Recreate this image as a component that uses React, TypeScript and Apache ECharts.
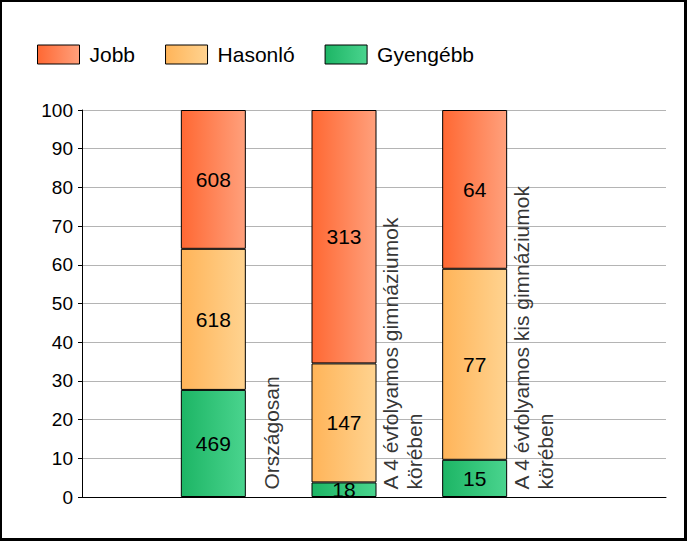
import React, { useEffect, useRef } from "react";
import * as echarts from "echarts";

const categories = [
  "Országosan",
  "A 4 évfolyamos gimnáziumok\nkörében",
  "A 4 évfolyamos kis gimnáziumok\nkörében",
];
const seriesNames = ["Jobb", "Hasonló", "Gyengébb"];
const jobb = [608, 313, 64];
const hasonlo = [618, 147, 77];
const gyengebb = [469, 18, 15];

const FONT = "Arial, 'Liberation Sans', sans-serif";

const grad = (a: string, b: string) =>
  new echarts.graphic.LinearGradient(0, 0, 1, 0, [
    { offset: 0, color: a },
    { offset: 1, color: b },
  ]);

export default function App() {
  const ref = useRef<HTMLDivElement>(null);

  useEffect(() => {
    if (!ref.current) return;
    const chart = echarts.init(ref.current, null, { renderer: "svg" });
    const totals = jobb.map((v, i) => v + hasonlo[i] + gyengebb[i]);
    const mk = (arr: number[]) =>
      arr.map((v, i) => ({ value: (v / totals[i]) * 100, count: v }));

    const barLabel = {
      show: true,
      position: "inside",
      color: "#000",
      fontSize: 21,
      fontFamily: FONT,
      formatter: (p: any) => String(p.data.count),
    };
    const bar = (name: string, arr: number[], c1: string, c2: string) => ({
      name,
      type: "bar",
      stack: "total",
      xAxisIndex: 1,
      yAxisIndex: 1,
      barWidth: 65,
      data: mk(arr),
      itemStyle: { color: grad(c1, c2), borderColor: "#000", borderWidth: 1 },
      label: barLabel,
    });

    chart.setOption({
      animation: false,
      backgroundColor: "#fff",
      legend: {
        data: seriesNames,
        left: 37,
        top: 44,
        padding: 0,
        icon: "rect",
        itemWidth: 42,
        itemHeight: 19,
        itemGap: 30,
        itemStyle: { borderColor: "#000", borderWidth: 1 },
        textStyle: {
          fontSize: 21,
          fontFamily: FONT,
          color: "#000",
          padding: [0, 0, 0, 5],
        },
      },
      grid: [
        { left: 82, right: 21, top: 110, bottom: 44 },
        { left: 148, width: 392, top: 110, bottom: 44 },
      ],
      xAxis: [
        {
          gridIndex: 0,
          type: "value",
          min: 0,
          max: 1,
          axisLine: { show: true, onZero: false, lineStyle: { color: "#000", width: 1 } },
          axisTick: { show: false },
          axisLabel: { show: false },
          splitLine: { show: false },
        },
        {
          gridIndex: 1,
          type: "category",
          data: categories,
          show: false,
        },
      ],
      yAxis: [
        {
          gridIndex: 0,
          type: "value",
          min: 0,
          max: 100,
          interval: 10,
          axisLine: { show: true, lineStyle: { color: "#000", width: 1 } },
          axisTick: { show: true, length: 4, lineStyle: { color: "#000" } },
          axisLabel: { fontSize: 19, fontFamily: FONT, color: "#000", margin: 9 },
          splitLine: { show: true, lineStyle: { color: "#b4b4b4", width: 1 } },
        },
        {
          gridIndex: 1,
          type: "value",
          min: 0,
          max: 100,
          show: false,
          splitLine: { show: false },
        },
      ],
      series: [
        bar("Gyengébb", gyengebb, "#1db565", "#4ad48e"),
        bar("Hasonló", hasonlo, "#ffb459", "#ffd390"),
        bar("Jobb", jobb, "#ff6833", "#ffa07c"),
        {
          name: "labels",
          type: "scatter",
          xAxisIndex: 1,
          yAxisIndex: 1,
          symbolSize: 1,
          itemStyle: { color: "rgba(0,0,0,0)" },
          silent: true,
          data: categories.map((c, i) => ({ value: [i, 0], name: c })),
          label: {
            show: true,
            position: [59, -7],
            rotate: 90,
            align: "left",
            verticalAlign: "middle",
            fontSize: 21,
            lineHeight: 24,
            fontFamily: FONT,
            color: "#000",
            formatter: (p: any) => p.name,
          },
        },
      ],
    });
    return () => chart.dispose();
  }, []);

  return (
    <div style={{ position: "absolute", left: 0, top: 0, width: 687, height: 541 }}>
      <div ref={ref} style={{ position: "absolute", left: 0, top: 0, width: 687, height: 541 }} />
      <div
        style={{
          position: "absolute",
          left: 0,
          top: 0,
          width: 687,
          height: 541,
          boxSizing: "border-box",
          borderStyle: "solid",
          borderColor: "#000",
          borderWidth: "2px 3px 3px 2px",
          pointerEvents: "none",
        }}
      />
    </div>
  );
}
